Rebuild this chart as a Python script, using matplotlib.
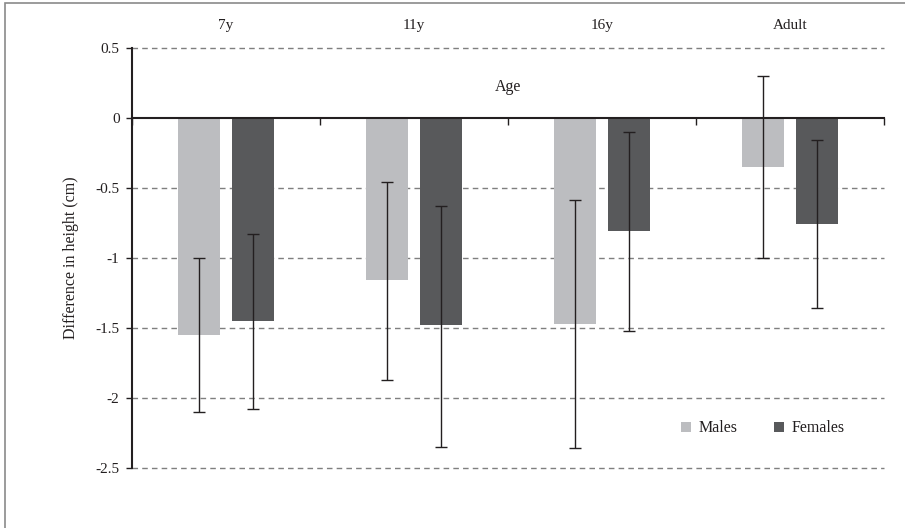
import numpy as np
import matplotlib.pyplot as plt
from matplotlib.patches import Rectangle

plt.rcParams['font.family'] = ['Liberation Serif', 'DejaVu Serif']

ages = ['7y', '11y', '16y', 'Adult']
males = [-1.55, -1.16, -1.47, -0.35]
males_lo = [-2.10, -1.87, -2.36, -1.00]
males_hi = [-1.00, -0.46, -0.59, 0.30]
females = [-1.45, -1.48, -0.81, -0.76]
females_lo = [-2.08, -2.35, -1.52, -1.36]
females_hi = [-0.83, -0.63, -0.10, -0.16]
yticks = [0.5, 0, -0.5, -1, -1.5, -2, -2.5]
ytick_labels = ['0.5', '0', '-0.5', '-1', '-1.5', '-2', '-2.5']

fig = plt.figure(figsize=(9.05, 5.28), dpi=100)
ax = fig.add_axes([132/905, 1 - 467.7/528, (884 - 132)/905, 420/528])

# outer frame (only top/left visible in the original crop)
fig.patches.append(Rectangle((5/905, -0.05), 1.1, 1 - 3/528 + 0.05, transform=fig.transFigure,
                             fill=False, edgecolor='#8a8a8a', linewidth=1.2))

x = np.arange(len(ages))
w = 0.223
off = 0.1436
m = np.array(males)
f = np.array(females)
m_err = [m - np.array(males_lo), np.array(males_hi) - m]
f_err = [f - np.array(females_lo), np.array(females_hi) - f]

ax.bar(x - off, m, w, color='#bcbdc0', label='Males', zorder=2)
ax.bar(x + off, f, w, color='#58595b', label='Females', zorder=2)
ax.errorbar(x - off, m, yerr=m_err, fmt='none', ecolor='#231f20', elinewidth=1,
            capsize=4, capthick=1, zorder=3)
ax.errorbar(x + off, f, yerr=f_err, fmt='none', ecolor='#231f20', elinewidth=1,
            capsize=4, capthick=1, zorder=3)

ax.set_xlim(-0.5, len(ages) - 0.5)
ax.set_ylim(-2.5, 0.5)
ax.set_yticks(yticks)
ax.set_yticklabels(ytick_labels)
for yv in yticks:
    if yv != 0:
        ax.axhline(yv, color='#7f7f7f', linestyle=(0, (4, 3)), linewidth=1, zorder=1,
                   clip_on=False)

for s in ['top', 'right']:
    ax.spines[s].set_visible(False)
ax.spines['bottom'].set_position(('data', 0))
ax.spines['bottom'].set_linewidth(1.5)
ax.spines['left'].set_linewidth(1.5)
ax.spines['bottom'].set_color('#231f20')
ax.spines['left'].set_color('#231f20')
ax.spines['bottom'].set_zorder(4)
ax.spines['left'].set_zorder(4)

ax.set_xticks(x)
ax.set_xticklabels(ages)
ax.set_xticks(np.arange(len(ages) + 1) - 0.5, minor=True)
ax.tick_params(axis='x', which='major', bottom=False, top=False, labelbottom=False,
               labeltop=True, pad=8, labelsize=11, labelcolor='#231f20')
ax.tick_params(axis='x', which='minor', bottom=True, top=False, direction='out',
               length=5, width=1, color='#231f20')
ax.tick_params(axis='y', direction='out', length=4, width=1, color='#231f20',
               labelsize=11, labelcolor='#231f20', pad=5)

ax.set_ylabel('Difference in height (cm)', fontsize=11.5, color='#231f20', labelpad=12)
ax.text(0.5, 0.906, 'Age', transform=ax.transAxes, ha='center', va='center',
        fontsize=11.5, color='#231f20')

ax.legend(loc='center left', bbox_to_anchor=(0.73, 0.094), ncol=2, frameon=False,
          borderpad=0, borderaxespad=0,
          fontsize=11.5, handlelength=0.6, handleheight=0.6, handletextpad=0.5,
          columnspacing=2.3, labelcolor='#231f20')

fig.savefig('out.png', dpi=100)
